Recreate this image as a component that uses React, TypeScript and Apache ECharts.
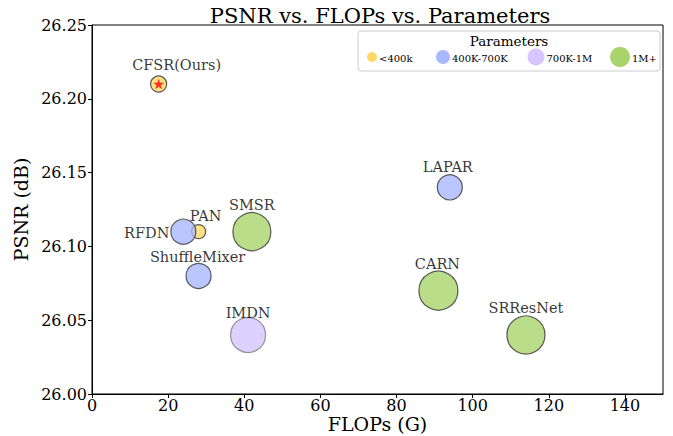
import React, { useEffect, useRef } from "react";
import * as echarts from "echarts";

const models = ["CFSR(Ours)", "PAN", "RFDN", "ShuffleMixer", "SMSR", "IMDN", "LAPAR", "CARN", "SRResNet"];
const flops = [17.5, 28, 24, 28, 42, 41, 94, 91, 114];
const psnr = [26.21, 26.11, 26.11, 26.08, 26.11, 26.04, 26.14, 26.07, 26.04];
const paramGroup = [0, 0, 1, 1, 3, 2, 1, 3, 3];
const bubbleSize = [16, 14, 25, 25, 38, 35, 25, 39, 38];

const groupNames = ["<400k", "400K-700K", "700K-1M", "1M+"];
const groupColors = ["#FFD966", "#A9B9FF", "#D5C6FF", "#A9D46B"];
const groupLegendSize = [10, 14, 17, 20];

const xTicks = [0, 20, 40, 60, 80, 100, 120, 140];
const yTicks = [26.0, 26.05, 26.1, 26.15, 26.2, 26.25];

const labelOffsets: Record<string, { off: [number, number]; align: string }> = {
  "CFSR(Ours)": { off: [18, -19], align: "center" },
  PAN: { off: [7, -16], align: "center" },
  RFDN: { off: [-14, 1], align: "right" },
  ShuffleMixer: { off: [-1, -19], align: "center" },
  SMSR: { off: [0, -27], align: "center" },
  IMDN: { off: [0, -22], align: "center" },
  LAPAR: { off: [-2, -20], align: "center" },
  CARN: { off: [-1, -27], align: "center" },
  SRResNet: { off: [0, -27], align: "center" },
};

const FONT = "DejaVu Serif";
const STAR = "path://M50,0 L61.2,34.5 L97.6,34.5 L68.2,55.9 L79.4,90.5 L50,69.1 L20.6,90.5 L31.8,55.9 L2.4,34.5 L38.8,34.5 Z";

export default function App() {
  const ref = useRef<HTMLDivElement>(null);
  useEffect(() => {
    if (!ref.current) return;
    const chart = echarts.init(ref.current, null, { renderer: "svg" });

    const data = models.map((m, i) => {
      const lo = labelOffsets[m];
      return {
        name: m,
        value: [flops[i], psnr[i]],
        symbolSize: bubbleSize[i],
        itemStyle: {
          color: groupColors[paramGroup[i]],
          borderColor: m === "IMDN" ? "#7a7a7a" : "#333333",
          borderWidth: 1.2,
        },
        label: {
          show: true,
          formatter: m,
          position: "inside",
          offset: lo.off,
          align: lo.align,
          verticalAlign: "middle",
          fontFamily: FONT,
          fontSize: 14.5,
          color: "#000",
          textBorderWidth: 0,
          textBorderColor: "transparent",
        },
      };
    });

    const legendX = [372, 443, 536, 620];
    const legendG: any[] = [
      {
        type: "rect",
        shape: { x: 358, y: 31, width: 302, height: 40, r: 3 },
        style: { fill: "#ffffff", stroke: "#cccccc", lineWidth: 1 },
      },
      {
        type: "text",
        x: 509,
        y: 41,
        style: { text: "Parameters", fontFamily: FONT, fontSize: 13.5, fill: "#000", align: "center", verticalAlign: "middle" },
      },
    ];
    groupNames.forEach((g, i) => {
      legendG.push({
        type: "circle",
        shape: { cx: legendX[i], cy: 57, r: groupLegendSize[i] / 2 },
        style: { fill: groupColors[i], stroke: "none" },
      });
      legendG.push({
        type: "text",
        x: legendX[i] + groupLegendSize[i] / 2 + 2,
        y: 58,
        style: { text: g, fontFamily: FONT, fontSize: 10, fill: "#000", align: "left", verticalAlign: "middle" },
      });
    });

    chart.setOption({
      animation: false,
      backgroundColor: "#ffffff",
      title: {
        text: "PSNR vs. FLOPs vs. Parameters",
        left: 375,
        textAlign: "center",
        top: 0,
        textStyle: { fontFamily: FONT, fontSize: 21, fontWeight: "normal", color: "#000" },
      },
      grid: {
        left: 92,
        right: 10,
        top: 25,
        bottom: 42,
        outerBoundsMode: "none",
        containLabel: false,
        show: true,
        borderColor: "#000",
        borderWidth: 1,
        backgroundColor: "transparent",
      },
      xAxis: {
        type: "value",
        min: 0,
        max: 150,
        interval: 20,
        name: "FLOPs (G)",
        nameLocation: "middle",
        nameGap: 21,
        nameMoveOverlap: false,
        nameTextStyle: { fontFamily: FONT, fontSize: 19, lineHeight: 17, color: "#000" },
        axisLine: { show: true, onZero: false, lineStyle: { color: "#000" } },
        axisTick: { show: true, length: 4, lineStyle: { color: "#000" } },
        splitLine: { show: false },
        axisLabel: {
          fontFamily: FONT,
          fontSize: 16,
          lineHeight: 14,
          color: "#000",
          margin: 4,
          showMaxLabel: false,
          formatter: (v: number) => (xTicks.includes(v) ? String(v) : ""),
        },
      },
      yAxis: {
        type: "value",
        min: 26.0,
        max: 26.25,
        interval: 0.05,
        name: "PSNR (dB)",
        nameLocation: "middle",
        nameGap: 62,
        nameMoveOverlap: false,
        nameTextStyle: { fontFamily: FONT, fontSize: 19, color: "#000" },
        axisLine: { show: true, onZero: false, lineStyle: { color: "#000" } },
        axisTick: { show: true, length: 4, lineStyle: { color: "#000" } },
        splitLine: { show: false },
        axisLabel: {
          fontFamily: FONT,
          fontSize: 16,
          color: "#000",
          margin: 5,
          formatter: (v: number) => {
            const t = yTicks.find((y) => Math.abs(y - v) < 1e-6);
            return t !== undefined ? t.toFixed(2) : "";
          },
        },
      },
      series: [
        {
          type: "scatter",
          data,
          z: 2,
        },
        {
          type: "scatter",
          symbol: STAR,
          symbolKeepAspect: true,
          symbolSize: 11,
          itemStyle: { color: "#ff0000" },
          data: [[flops[0], psnr[0]]],
          z: 3,
          silent: true,
        },
      ],
      graphic: legendG,
    });
    return () => chart.dispose();
  }, []);
  return <div ref={ref} style={{ width: 673, height: 436, position: "absolute", left: 0, top: 0 }} />;
}
